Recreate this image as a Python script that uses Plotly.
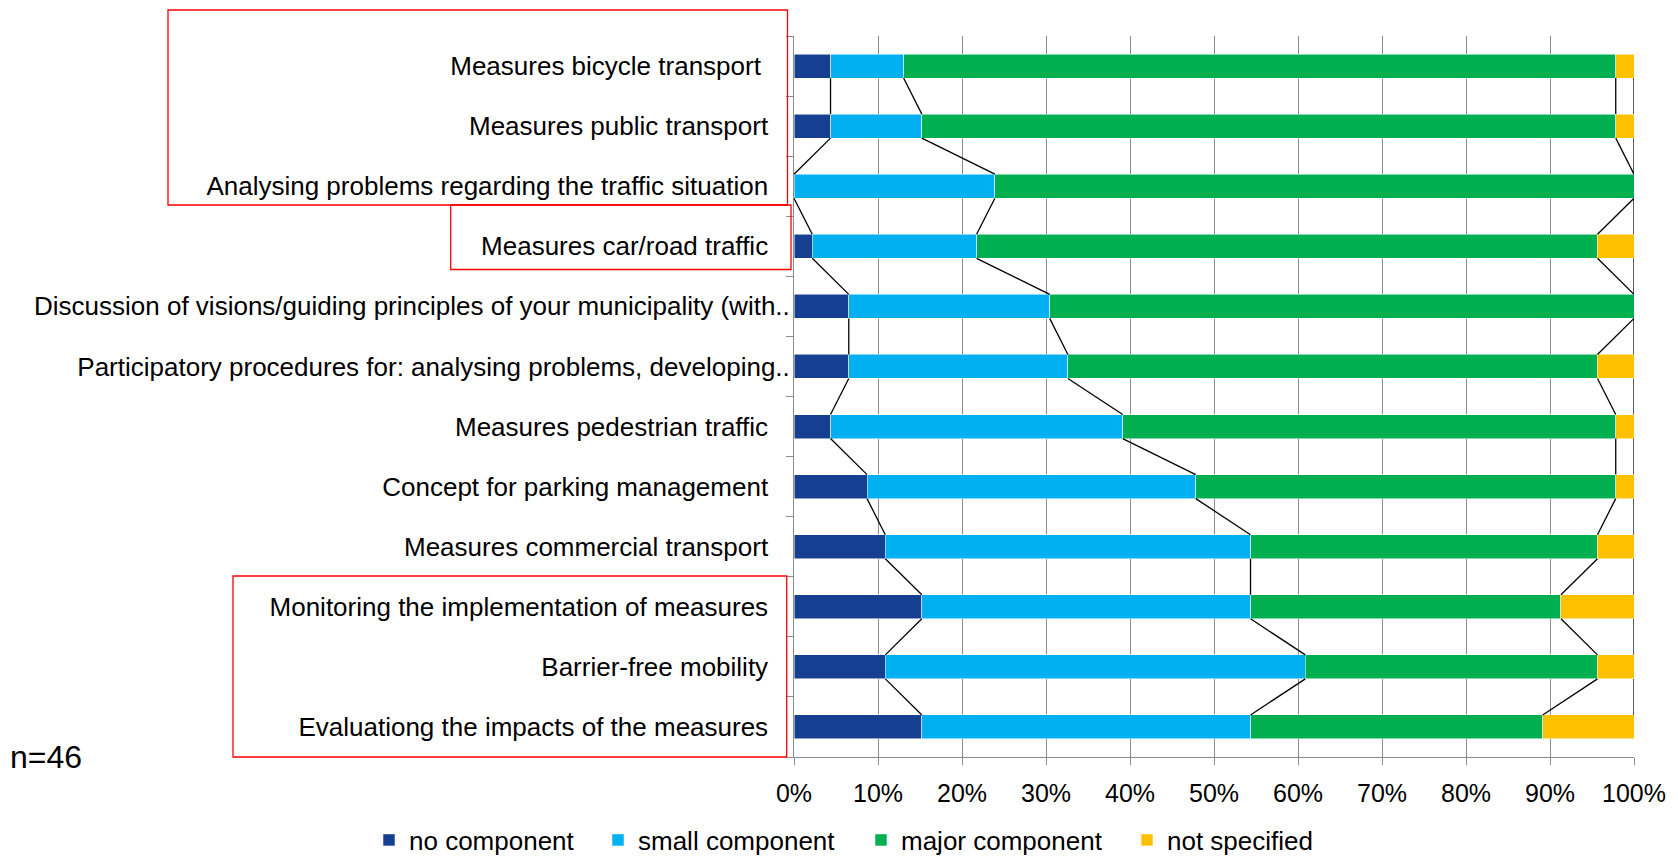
import plotly.graph_objects as go

# ---------------- data (counts of municipalities, n = 46) ----------------
categories = [
    "Measures bicycle transport ",
    "Measures public transport",
    "Analysing problems regarding the traffic situation",
    "Measures car/road traffic",
    "Discussion of visions/guiding principles of your municipality (with..",
    "Participatory procedures for: analysing problems, developing..",
    "Measures pedestrian traffic",
    "Concept for parking management",
    "Measures commercial transport",
    "Monitoring the implementation of measures",
    "Barrier-free mobility",
    "Evaluationg the impacts of the measures",
]
no_component    = [2, 2, 0, 1, 3, 3, 2, 4, 5, 7, 5, 7]
small_component = [4, 5, 11, 9, 11, 12, 16, 18, 20, 18, 23, 18]
major_component = [39, 38, 35, 34, 32, 29, 27, 23, 19, 17, 16, 16]
not_specified   = [1, 1, 0, 2, 0, 2, 1, 1, 2, 4, 2, 5]
series_names = ["no component", "small component", "major component", "not specified"]
x_ticks = [0, 10, 20, 30, 40, 50, 60, 70, 80, 90, 100]
sample_note = "n=46"

# ---------------- styling ----------------
colors = ["#163F92", "#00B0F0", "#00B050", "#FFC000"]
FONT = "Liberation Sans, Arial, sans-serif"
BAR_W = 0.4
GRID = "#8C8C8C"
L, R, T, B = 794, 44, 36, 101
W, H = 1678, 858
PW, PH = W - L - R, H - T - B


def px_x(px):
    return (px - L) / PW


def px_y(py):
    return (H - B - py) / PH


series = [no_component, small_component, major_component, not_specified]
ypos = list(range(len(categories)))
totals = [sum(v) for v in zip(*series)]

fig = go.Figure()

# series lines (Excel style) connecting the right ends of each segment
running = [0] * len(categories)
for s in series:
    running = [r + v for r, v in zip(running, s)]
    pct = [100.0 * r / t for r, t in zip(running, totals)]
    xs, ys = [], []
    for i in range(len(categories) - 1):
        xs += [pct[i], pct[i + 1], None]
        ys += [i + BAR_W / 2, i + 1 - BAR_W / 2, None]
    fig.add_trace(go.Scatter(x=xs, y=ys, mode="lines",
                             line=dict(color="black", width=1.3),
                             showlegend=False, hoverinfo="skip", cliponaxis=False))

# stacked bars
for k, (name, vals, col) in enumerate(zip(series_names, series, colors)):
    fig.add_trace(go.Bar(
        x=vals, y=ypos, orientation="h", name=name, width=BAR_W,
        marker=dict(color=col, line=dict(color="rgba(255,255,255,0.7)", width=0.75)),
        legend="legend" if k == 0 else f"legend{k + 1}",
    ))


# tick labels: regular labels sit a bit further from the axis than truncated ones
def label(c):
    if c.endswith(".."):
        return c
    if c.endswith(" "):
        return c.rstrip() + "\u00a0" * 4
    return c + "\u00a0" * 3


fig.update_layout(
    width=W, height=H,
    margin=dict(l=L, r=R, t=T, b=B, autoexpand=False),
    barmode="stack", barnorm="percent",
    plot_bgcolor="white", paper_bgcolor="white",
    font=dict(family=FONT, size=26, color="black"),
    xaxis=dict(range=[0, 100], tickvals=x_ticks, ticktext=[f"{v}%" for v in x_ticks],
               showgrid=True, gridcolor=GRID, gridwidth=1,
               showline=True, linecolor=GRID, linewidth=1,
               ticks="outside", ticklen=7, tickcolor=GRID,
               ticklabelstandoff=7, tickfont=dict(size=25), zeroline=False),
    yaxis=dict(range=[len(categories) - 0.5, -0.5], tickvals=ypos,
               ticktext=[label(c) for c in categories],
               showgrid=False, zeroline=False,
               showline=True, linecolor=GRID, linewidth=1,
               ticks="", ticklabelstandoff=-2, tickfont=dict(size=26),
               minor=dict(tickvals=[i - 0.5 for i in range(len(categories) + 1)],
                          ticks="outside", ticklen=7, tickcolor=GRID, showgrid=False)),
)

# one legend per item so spacing follows the reference
leg_left_px = [369, 598, 861, 1127]
for k, px in enumerate(leg_left_px):
    key = "legend" if k == 0 else f"legend{k + 1}"
    fig.update_layout(**{key: dict(x=px_x(px), xanchor="left",
                                   y=px_y(840), yanchor="middle",
                                   orientation="h", bgcolor="rgba(0,0,0,0)",
                                   font=dict(size=26), traceorder="normal")})

# highlight boxes around selected labels
box_style = dict(type="rect", xref="paper", yref="paper",
                 line=dict(color="#FF0000", width=1.3), fillcolor="rgba(0,0,0,0)", layer="above")
fig.add_shape(x0=px_x(168), x1=px_x(787.5), y0=px_y(10), y1=px_y(205), **box_style)
fig.add_shape(x0=px_x(450.7), x1=px_x(791), y0=px_y(205), y1=px_y(269.5), **box_style)
fig.add_shape(x0=px_x(233), x1=px_x(786.7), y0=px_y(576), y1=px_y(757), **box_style)

fig.add_annotation(text=sample_note, xref="paper", yref="paper",
                   x=px_x(8), y=px_y(757), xanchor="left", yanchor="middle",
                   showarrow=False, font=dict(size=32))

fig.write_html("out.html", config={"displayModeBar": False},
               post_script="document.body.style.margin='0';document.body.style.overflow='hidden';")
